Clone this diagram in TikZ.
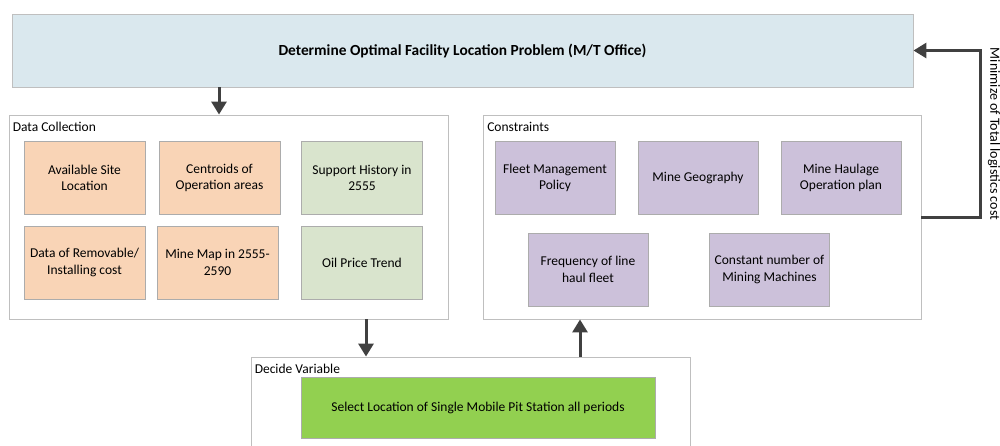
\documentclass[tikz,border=0pt]{standalone}
\usepackage{fontspec}
\setmainfont{Carlito}
\usetikzlibrary{arrows.meta}
\definecolor{titleblue}{HTML}{DAE8EE}
\definecolor{dataorange}{HTML}{F9D4B6}
\definecolor{datagreen}{HTML}{D9E4CD}
\definecolor{conspurple}{HTML}{CCC1DA}
\definecolor{selectgreen}{HTML}{92D050}
\definecolor{framegray}{HTML}{BFBFBF}
\definecolor{flowgray}{HTML}{404040}
\begin{document}
\begin{tikzpicture}[x=1pt,y=-1pt,
		every node/.style={font=\fontsize{13.5}{16.5}\selectfont},
		frame/.style={draw=framegray, line width=0.9pt, fill=white, inner sep=0pt},
		item/.style={draw=framegray!90!black, line width=0.8pt, align=center, inner sep=0pt, minimum width=121pt, minimum height=73pt},
		datacell/.style={item, fill=dataorange},
		histcell/.style={item, fill=datagreen},
		conscell/.style={item, fill=conspurple, minimum width=120pt},
		tag/.style={anchor=base west, inner sep=0pt},
		flow/.style={draw=flowgray, line width=3pt, -{Triangle[length=13pt,width=15pt]}}]
		\useasboundingbox (0,0) rectangle (1000,445);
		\node[frame, fill=titleblue, minimum width=901pt, minimum height=73pt, font=\fontsize{15.4}{18}\selectfont\bfseries] (top) at (462.5,50.5) {Determine Optimal Facility Location Problem (M/T Office)};
		\node[frame, minimum width=439pt, minimum height=204pt] (dc) at (228.5,217) {};
		\node[frame, minimum width=438pt, minimum height=204pt] (cons) at (702,217) {};
		\node[frame, minimum width=439pt, minimum height=120pt] (dv) at (471,417) {};
		\node[tag] at ([xshift=4pt,yshift=-16.5pt]dc.north west) {Data Collection};
		\node[tag] at ([xshift=4.5pt,yshift=-16.5pt]cons.north west) {Constraints};
		\node[tag] at ([xshift=3.5pt,yshift=-16.5pt]dv.north west) {Decide Variable};
		\node[datacell] (site) at (84.5,178) {Available Site\\Location};
		\node[datacell] (centroid) at (219.5,178) {Centroids of\\Operation areas};
		\node[histcell] (support) at (362,178) {Support History in\\2555};
		\node[datacell] (cost) at (84.5,262.5) {Data of Removable/\\Installing cost};
		\node[datacell] (map) at (217.5,262.5) {Mine Map in 2555-\\2590};
		\node[histcell] (oil) at (362,262.5) {Oil Price Trend};
		\node[conscell] (fleet) at (555,178) {Fleet Management\\Policy};
		\node[conscell] (geo) at (698,178) {Mine Geography};
		\node[conscell] (haul) at (841,178) {Mine Haulage\\Operation plan};
		\node[conscell] (freq) at (588,269.5) {Frequency of line\\haul fleet};
		\node[conscell] (mach) at (769.5,269.5) {Constant number of\\Mining Machines};
		\node[item, fill=selectgreen, minimum width=354pt, minimum height=61pt] (select) at (478,407.5) {Select Location of Single Mobile Pit Station all periods};
		\coordinate (turn) at (980,0 |- top.east);
		\draw[flow] (219,0 |- top.south) -- (219,0 |- dc.north);
		\draw[flow] (366,0 |- dc.south) -- (366,0 |- dv.north);
		\draw[flow] (580,0 |- dv.north) -- (580,0 |- cons.south);
		\draw[flow] (cons.east) -| (turn) -- (top.east);
		\node[rotate=-90, inner sep=0pt, font=\fontsize{14}{17}\selectfont] (goal) at (994,134) {Minimize of Total logistics cost};
	\end{tikzpicture}
\end{document}
